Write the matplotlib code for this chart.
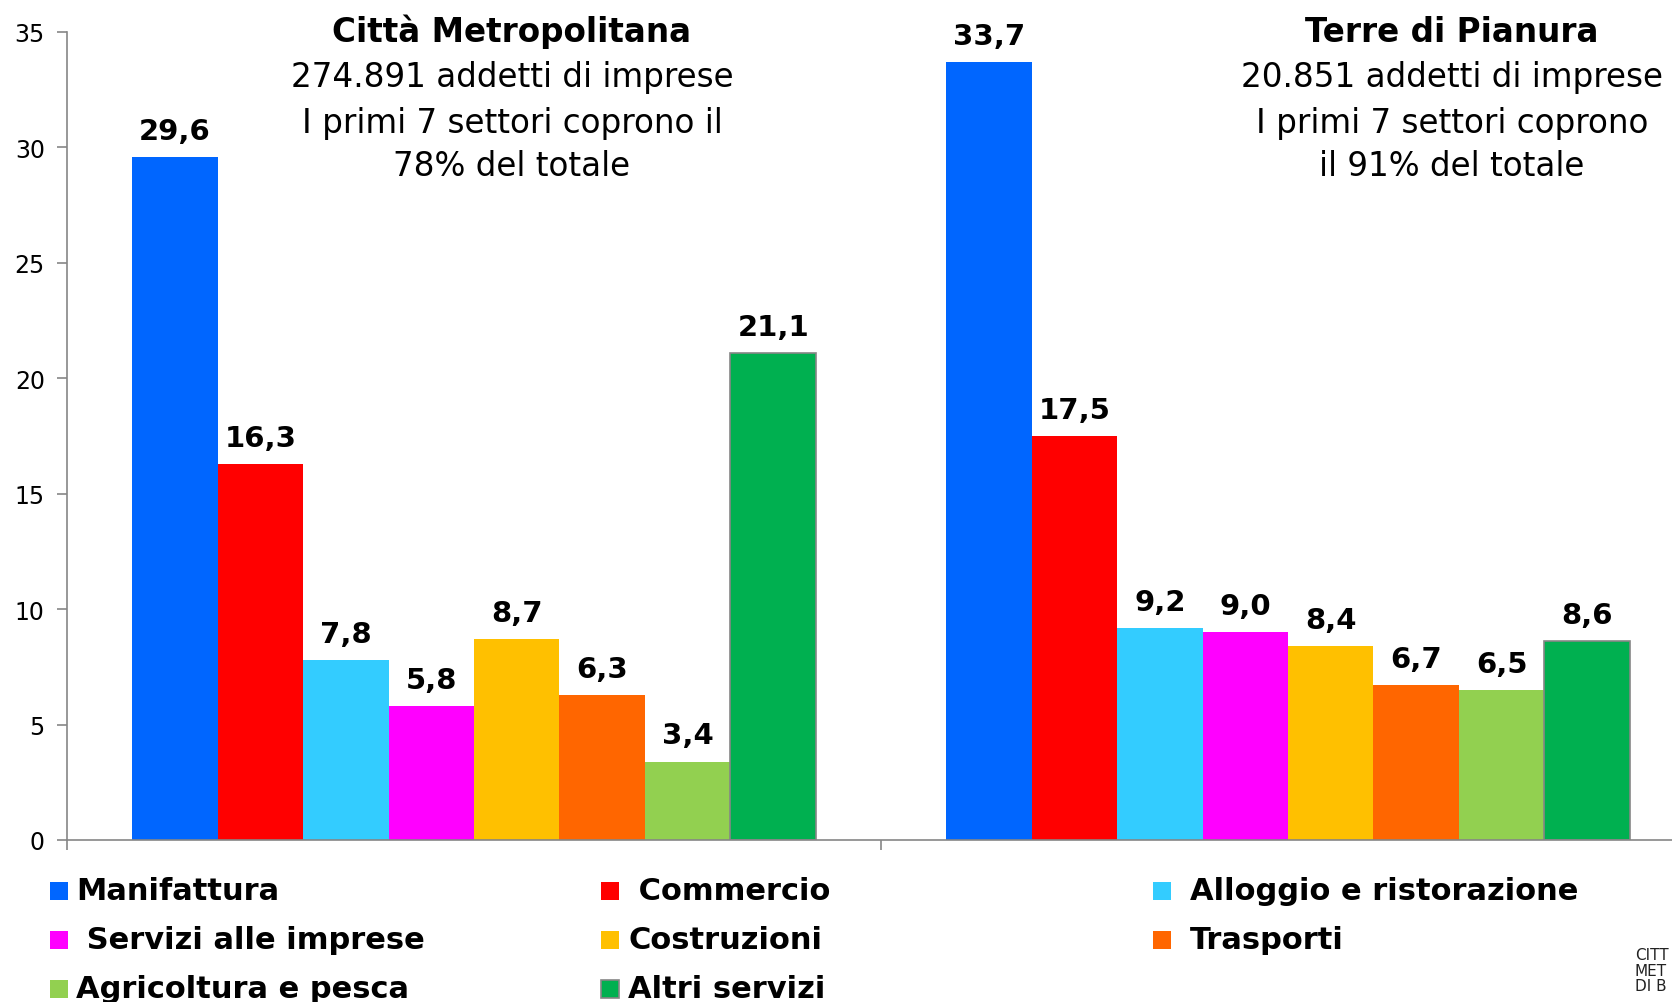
import matplotlib.pyplot as plt
import numpy as np

# settori e quote % degli addetti
settori = ['Manifattura', 'Commercio', 'Alloggio e ristorazione', 'Servizi alle imprese',
           'Costruzioni', 'Trasporti', 'Agricoltura e pesca', 'Altri servizi']
citta_metro = [29.6, 16.3, 7.8, 5.8, 8.7, 6.3, 3.4, 21.1]
terre_pianura = [33.7, 17.5, 9.2, 9.0, 8.4, 6.7, 6.5, 8.6]
colori = ['#0066FF', '#FF0000', '#33CCFF', '#FF00FF', '#FFC000', '#FF6600', '#92D050', '#00B050']

titoli = [['Città Metropolitana', '274.891 addetti di imprese', 'I primi 7 settori coprono il', '78% del totale'],
          ['Terre di Pianura', '20.851 addetti di imprese', 'I primi 7 settori coprono', 'il 91% del totale']]

# legend labels as written in the original (some with a leading space)
etichette_legenda = [['Manifattura', ' Servizi alle imprese', 'Agricoltura e pesca'],
                     [' Commercio', 'Costruzioni', 'Altri servizi'],
                     ['Alloggio e ristorazione', 'Trasporti']]
colori_legenda = [[colori[0], colori[3], colori[6]],
                  [colori[1], colori[4], colori[7]],
                  [colori[2], colori[5]]]

W, H = 1672, 1003
fig = plt.figure(figsize=(W / 100, H / 100), dpi=100)
ax = fig.add_axes([67 / W, 162 / H, 2 * 814 / W, 808 / H])

w = 0.105
x = np.arange(2)
grigio = '#868686'
for i, (nome, col) in enumerate(zip(settori, colori)):
    vals = [citta_metro[i], terre_pianura[i]]
    ec = grigio if nome == 'Altri servizi' else 'none'
    bars = ax.bar(x + (i - 3.5) * w, vals, width=w, color=col, edgecolor=ec, linewidth=1.2)
    for b, v in zip(bars, vals):
        ax.annotate(f'{v:.1f}'.replace('.', ','), (b.get_x() + b.get_width() / 2, v),
                    xytext=(0, 13), textcoords='offset points', ha='center', va='baseline',
                    fontsize=21, fontweight='bold')

ax.set_xlim(-0.5, 1.5)
ax.set_ylim(0, 35)
ax.set_yticks(range(0, 36, 5))
ax.set_xticks([-0.5, 0.5, 1.5])
ax.set_xticklabels([])
for s in ['top', 'right']:
    ax.spines[s].set_visible(False)
for s in ['left', 'bottom']:
    ax.spines[s].set_color(grigio)
    ax.spines[s].set_linewidth(1.2)
ax.tick_params(axis='y', length=7, width=1.2, color=grigio, labelsize=17, pad=9)
ax.tick_params(axis='x', length=7, width=1.2, color=grigio)

# titoli dei due gruppi
y_righe = [32, 78, 123, 167]
for xc, righe in zip([512, 1452], titoli):
    for j, (riga, yr) in enumerate(zip(righe, y_righe)):
        fig.text(xc / W, 1 - yr / H, riga, ha='center', va='center', fontsize=23.5,
                 fontweight='bold' if j == 0 else 'normal')

# legenda su tre colonne
x_marker = [50, 601, 1153]
x_testo = [76, 628, 1190]
y_leg = [892, 941, 990]
for c in range(3):
    for r, (lab, col) in enumerate(zip(etichette_legenda[c], colori_legenda[c])):
        ec = grigio if lab == 'Altri servizi' else 'none'
        fig.add_artist(plt.Rectangle((x_marker[c] / W, 1 - (y_leg[r] + 9) / H), 18 / W, 18 / H,
                                     transform=fig.transFigure, facecolor=col, edgecolor=ec,
                                     linewidth=1.2))
        fig.text(x_testo[c] / W, 1 - y_leg[r] / H, lab, ha='left', va='center',
                 fontsize=22, fontweight='bold')

# logo (solo la parte visibile)
fig.text(1635 / W, 1 - 948 / H, 'CITT\nMET\nDI B', ha='left', va='top',
         fontsize=11, color='#222222', linespacing=1.05)

fig.savefig('out.png', dpi=100)
